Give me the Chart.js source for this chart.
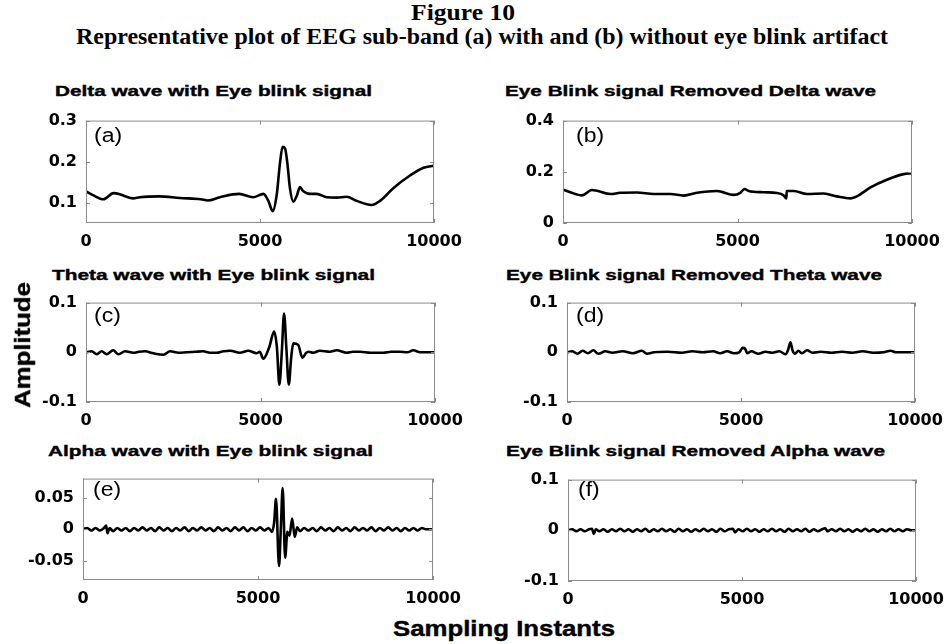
<!DOCTYPE html>
<html lang="en">
<head>
<meta charset="UTF-8">
<title>Figure 10</title>
<script src="https://cdn.jsdelivr.net/npm/chart.js"></script>
<style>
  body { margin: 0; background: #fff; }
  #fig { position: relative; width: 947px; height: 644px; overflow: hidden; background: #fff; }
  .txt { position: absolute; white-space: nowrap; color: #000; transform-origin: 0 0; }
  .head { font-family: 'Liberation Serif', 'Times New Roman', serif; font-weight: bold; font-size: 20px; line-height: 20px; }
  .ptitle { font-family: 'Liberation Sans', Arial, sans-serif; font-weight: bold; font-size: 15px; line-height: 15px; -webkit-text-stroke: 0.4px #000; }
  .tag { font-family: 'Liberation Sans', Arial, sans-serif; font-size: 20px; line-height: 20px; }
  .axlab { font-family: 'Liberation Sans', Arial, sans-serif; font-weight: bold; font-size: 22px; line-height: 22px; -webkit-text-stroke: 0.4px #000; }
  .panel { position: absolute; }
</style>
</head>
<body>
<div id="fig"></div>

<script>
// x axis ticks shared by every panel
const xTicks = [0, 5000, 10000];

// y ticks per panel
const yTicksA = [0.1, 0.2, 0.3];
const yTicksB = [0, 0.2, 0.4];
const yTicksC = [-0.1, 0, 0.1];
const yTicksD = [-0.1, 0, 0.1];
const yTicksE = [-0.05, 0, 0.05];
const yTicksF = [-0.1, 0, 0.1];

// (a) delta wave with eye blink  [sample, amplitude]
const deltaBlink = [[0,0.127],[200,0.118],[500,0.108],[790,0.123],[950,0.121],[1100,0.116],[1350,0.110],[1550,0.113],
  [2100,0.115],[2700,0.111],[3300,0.108],[3500,0.105],[3850,0.113],[4400,0.121],[4800,0.113],[5100,0.121],[5240,0.104],
  [5365,0.079],[5480,0.119],[5575,0.197],[5650,0.236],[5720,0.232],[5785,0.197],[5860,0.135],[5955,0.102],[6055,0.116],
  [6150,0.138],[6225,0.129],[6440,0.121],[6630,0.121],[6920,0.113],[7200,0.112],[7490,0.114],[7780,0.104],[8210,0.094],
  [8450,0.104],[8830,0.135],[9310,0.166],[9700,0.185],[10000,0.190]];

// (b) delta wave, blink removed
const deltaClean = [[0,0.130],[210,0.120],[540,0.108],[830,0.129],[970,0.126],[1360,0.113],[1640,0.118],[2120,0.119],
  [2600,0.113],[3080,0.113],[3460,0.107],[3840,0.118],[4410,0.125],[4890,0.110],[5080,0.118],[5200,0.133],[5320,0.125],
  [5750,0.120],[6130,0.117],[6320,0.108],[6400,0.096],[6410,0.125],[6610,0.125],[6990,0.113],[7470,0.115],[7850,0.104],
  [8230,0.096],[8470,0.108],[8810,0.139],[9280,0.169],[9760,0.191],[10000,0.194]];

// (c) theta wave with eye blink
const thetaBlink = [[0,0],[160,0.002],[310,-0.004],[450,0.002],[590,-0.004],[780,0.004],[930,-0.004],[1120,0.002],
  [1360,-0.001],[1520,0.001],[1690,0.002],[1930,-0.002],[2220,-0.005],[2410,0.002],[2650,-0.001],[2880,0],[3120,0.001],
  [3360,0.002],[3550,-0.001],[3740,-0.001],[3940,0.002],[4130,0.003],[4410,-0.001],[4650,0.003],[4890,-0.002],[4980,0.001],
  [5080,-0.013],[5250,0.010],[5390,0.042],[5470,0.010],[5540,-0.065],[5610,0],[5675,0.078],[5740,0.010],[5810,-0.065],
  [5880,-0.010],[5940,0.018],[6080,0.015],[6200,-0.011],[6300,-0.002],[6370,0.001],[6510,-0.001],[6700,0.003],[6990,0.001],
  [7180,0.004],[7470,-0.001],[7650,0.001],[7850,0.001],[8150,-0.001],[8520,-0.001],[8750,0.001],[8990,0.001],[9200,0],
  [9380,0.004],[9570,0],[9800,0],[10000,0]];

// (d) theta wave, blink removed
const thetaClean = [[0,0],[150,0.002],[300,-0.003],[450,0.003],[600,-0.002],[760,0.004],[900,-0.003],[1100,0.002],
  [1300,-0.001],[1600,0.002],[1900,-0.002],[2150,0.003],[2300,-0.003],[2500,0],[2900,0.001],[3300,-0.001],[3600,0.002],
  [3900,0],[4200,0.002],[4400,-0.002],[4600,0.002],[4800,-0.002],[4950,0],[5050,0.009],[5120,0.007],[5180,-0.002],
  [5300,0.002],[5500,-0.003],[5700,0.001],[5900,-0.001],[6100,0.002],[6280,-0.004],[6350,0.004],[6420,0.020],[6480,0.004],
  [6550,-0.003],[6650,0.003],[6750,-0.002],[6900,0.004],[7050,-0.001],[7300,0.001],[7600,-0.001],[7900,0.001],[8200,-0.001],
  [8500,0.002],[8800,-0.001],[9100,0],[9300,0.003],[9450,0],[10000,0]];

// (e) alpha wave with eye blink
const alphaBlink = [[0,0],[120,0.002],[240,-0.002],[360,0.002],[480,-0.002],[600,0.002],[660,0.006],[700,-0.006],
  [760,0.002],[860,-0.003],[980,0.002],[1100,-0.002],[1220,0.002],[1340,-0.003],[1460,0.002],[1580,-0.002],[1700,0.003],
  [1820,-0.002],[1940,0.002],[2060,-0.003],[2180,0.003],[2300,-0.002],[2420,0.002],[2540,-0.003],[2660,0.002],[2780,-0.002],
  [2900,0.003],[3020,-0.003],[3140,0.002],[3260,-0.002],[3380,0.003],[3500,-0.002],[3620,0.002],[3740,-0.003],[3860,0.003],
  [3980,-0.002],[4100,0.002],[4220,-0.003],[4340,0.003],[4460,-0.002],[4580,0.003],[4700,-0.003],[4820,0.002],[4940,-0.002],
  [5060,0.003],[5180,-0.002],[5300,0.002],[5400,-0.004],[5460,0.010],[5515,0.048],[5600,-0.058],[5655,0.005],[5705,0.065],
  [5775,-0.045],[5840,-0.004],[5900,-0.010],[5975,0.017],[6050,-0.012],[6120,0.003],[6200,-0.003],[6320,0.002],
  [6440,-0.002],[6560,0.002],[6680,-0.003],[6800,0.003],[6920,-0.002],[7040,0.002],[7160,-0.003],[7280,0.003],[7400,-0.002],
  [7520,0.002],[7640,-0.003],[7760,0.003],[7880,-0.002],[8000,0.002],[8120,-0.002],[8240,0.003],[8360,-0.003],[8480,0.002],
  [8600,-0.002],[8720,0.003],[8840,-0.002],[8960,0.002],[9080,-0.003],[9200,0.002],[9320,-0.002],[9440,0.002],[9560,-0.002],
  [9680,0.002],[9800,0],[9920,0],[10000,0]];

// (f) alpha wave, blink removed
const alphaClean = [[0,0],[120,0.002],[240,-0.002],[360,0.002],[480,-0.002],[600,0.002],[690,0.003],[740,-0.007],
  [800,0.002],[900,-0.002],[1020,0.002],[1140,-0.003],[1260,0.002],[1380,-0.002],[1500,0.003],[1620,-0.002],[1740,0.002],
  [1860,-0.003],[1980,0.002],[2100,-0.002],[2220,0.003],[2340,-0.003],[2460,0.002],[2580,-0.002],[2700,0.003],[2820,-0.002],
  [2940,0.002],[3060,-0.003],[3180,0.003],[3300,-0.002],[3420,0.002],[3540,-0.003],[3660,0.002],[3780,-0.002],[3900,0.003],
  [4020,-0.002],[4140,0.002],[4260,-0.003],[4380,0.003],[4500,-0.002],[4620,0.002],[4740,0.003],[4800,-0.004],[4900,0.002],
  [5020,-0.002],[5140,0.003],[5260,-0.002],[5380,0.002],[5500,-0.003],[5620,0.002],[5740,-0.002],[5860,0.003],[5980,-0.002],
  [6100,0.002],[6220,-0.003],[6340,0.003],[6460,-0.002],[6580,0.002],[6700,-0.002],[6820,0.003],[6940,-0.003],[7060,0.002],
  [7180,-0.002],[7300,0.002],[7390,0.004],[7460,-0.002],[7580,0.002],[7700,-0.002],[7820,0.003],[7940,-0.002],[8060,0.002],
  [8180,-0.003],[8300,0.002],[8420,-0.002],[8540,0.003],[8660,-0.002],[8780,0.002],[8900,-0.003],[9020,0.002],[9140,-0.002],
  [9260,0.003],[9380,-0.002],[9500,0.002],[9620,-0.002],[9740,0.002],[9860,0],[10000,0]];

// labels
const panelTitles = ['Delta wave with Eye blink signal', 'Eye Blink signal Removed Delta wave',
  'Theta wave with Eye blink signal', 'Eye Blink signal Removed Theta wave',
  'Alpha wave with Eye blink signal', 'Eye Blink signal Removed Alpha wave'];
const panelTags = ['(a)', '(b)', '(c)', '(d)', '(e)', '(f)'];

// plot-area boxes (left, top, width, height) in page pixels
const panels = [
  { data: deltaBlink, yMin: 0.05, yMax: 0.3, yTicks: yTicksA, box: [86, 114, 348, 109], title: [55, 83, 317], tag: [94, 125] },
  { data: deltaClean, yMin: 0,    yMax: 0.4, yTicks: yTicksB, box: [563, 114, 349, 109], title: [505, 83, 371], tag: [576, 125] },
  { data: thetaBlink, yMin: -0.1, yMax: 0.1, yTicks: yTicksC, box: [86, 296, 349, 106], title: [52, 267, 323], tag: [94, 305] },
  { data: thetaClean, yMin: -0.1, yMax: 0.1, yTicks: yTicksD, box: [567, 296, 348, 106], title: [506, 267, 376], tag: [576, 305] },
  { data: alphaBlink, yMin: -0.08, yMax: 0.08, yTicks: yTicksE, box: [83, 472, 350, 108], title: [48, 443, 325], tag: [93, 479] },
  { data: alphaClean, yMin: -0.1, yMax: 0.1, yTicks: yTicksF, box: [568, 473, 348, 108], title: [506, 443, 379], tag: [578, 479] }
];

const fig = document.getElementById('fig');
const tickFont = { family: 'DejaVu Sans', weight: 'bold', size: 16 };

// stretch a text element to a target width (and optional vertical factor)
function addText(text, cls, left, top, width, sy) {
  const el = document.createElement('div');
  el.className = 'txt ' + cls;
  el.textContent = text;
  el.style.left = left + 'px';
  el.style.top = top + 'px';
  fig.appendChild(el);
  if (width) {
    const nat = el.getBoundingClientRect().width;
    el.style.transform = 'scale(' + (width / nat) + ',' + (sy || 1) + ')';
  }
  return el;
}

// box and inward tick marks, MATLAB style
const framePlugin = {
  id: 'frame',
  afterDraw(chart) {
    const { ctx, chartArea: a, scales } = chart;
    ctx.save();
    ctx.strokeStyle = '#8a8a8a';
    ctx.lineWidth = 1;
    ctx.strokeRect(a.left + 0.5, a.top + 0.5, a.right - a.left - 1, a.bottom - a.top - 1);
    ctx.beginPath();
    scales.x.ticks.forEach(t => {
      const px = Math.round(scales.x.getPixelForValue(t.value)) + 0.5;
      ctx.moveTo(px, a.bottom); ctx.lineTo(px, a.bottom - 4);
      ctx.moveTo(px, a.top); ctx.lineTo(px, a.top + 4);
    });
    scales.y.ticks.forEach(t => {
      const py = Math.round(scales.y.getPixelForValue(t.value)) + 0.5;
      ctx.moveTo(a.left, py); ctx.lineTo(a.left + 4, py);
      ctx.moveTo(a.right, py); ctx.lineTo(a.right - 4, py);
    });
    ctx.stroke();
    ctx.restore();
  }
};

panels.forEach((p, i) => {
  const [l, t, w, h] = p.box;
  const wrap = document.createElement('div');
  wrap.className = 'panel';
  wrap.style.left = (l - 60) + 'px';
  wrap.style.top = (t - 12) + 'px';
  wrap.style.width = (w + 100) + 'px';
  wrap.style.height = (h + 42) + 'px';
  const canvas = document.createElement('canvas');
  wrap.appendChild(canvas);
  fig.appendChild(wrap);

  new Chart(canvas, {
    type: 'line',
    data: {
      datasets: [{
        data: p.data.map(d => ({ x: d[0], y: d[1] })),
        borderColor: '#000',
        borderWidth: 2.6,
        pointRadius: 0,
        cubicInterpolationMode: 'monotone',
        fill: false
      }]
    },
    options: {
      animation: false,
      responsive: true,
      maintainAspectRatio: false,
      layout: { padding: { top: 12, right: 40, left: 0, bottom: 0 } },
      plugins: { legend: { display: false }, tooltip: { enabled: false } },
      scales: {
        x: {
          type: 'linear', min: 0, max: 10000,
          afterBuildTicks: s => { s.ticks = xTicks.map(v => ({ value: v })); },
          afterFit: s => { s.height = 30; },
          ticks: { font: tickFont, color: '#000', padding: 9, maxRotation: 0, autoSkip: false, callback: v => String(v) },
          grid: { display: false, drawTicks: false },
          border: { display: false }
        },
        y: {
          type: 'linear', min: p.yMin, max: p.yMax,
          afterBuildTicks: s => { s.ticks = p.yTicks.map(v => ({ value: v })); },
          afterFit: s => { s.width = 60; },
          ticks: { font: tickFont, color: '#000', padding: 9, callback: v => String(v) },
          grid: { display: false, drawTicks: false },
          border: { display: false }
        }
      }
    },
    plugins: [framePlugin]
  });

  addText(panelTitles[i], 'ptitle', p.title[0], p.title[1], p.title[2]);
  const tag = addText(panelTags[i], 'tag', p.tag[0], p.tag[1]);
  tag.style.transform = 'scaleX(1.15)';
});

// figure heading
addText('Figure 10', 'head', 411, 1, 104, 1.12);
addText('Representative plot of EEG sub-band (a) with and (b) without eye blink artifact', 'head', 76, 25, 812, 1.12);

// shared axis labels
addText('Sampling Instants', 'axlab', 393, 618, 222);
const amp = addText('Amplitude', 'axlab', 0, 0);
const ampW = amp.getBoundingClientRect().width;
amp.style.transform = 'translate(23px, 345px) rotate(-90deg) scale(' + (126 / ampW) + ', 1) translate(' + (-ampW / 2) + 'px, -11px)';
</script>
</body>
</html>
